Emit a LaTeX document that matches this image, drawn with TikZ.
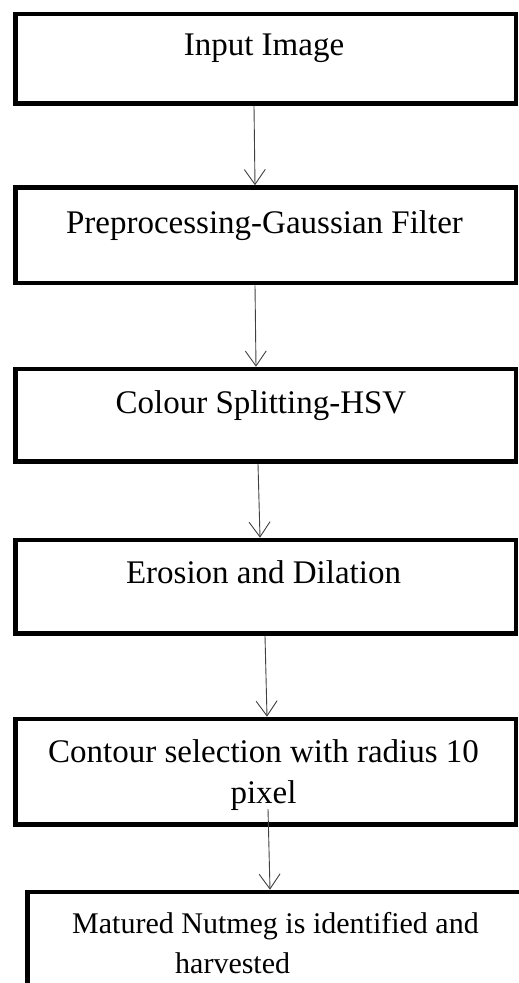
\documentclass[tikz,border=0pt]{standalone}
\usepackage{fontspec}
\setmainfont{Liberation Serif}
\usetikzlibrary{arrows.meta}
\tikzset{
  boxshape/.style={draw=black, line width=4.6pt, inner sep=0pt, fill=none},
  lbl/.style={inner sep=0pt, anchor=base, font=\fontsize{33}{41}\selectfont},
  lblsmall/.style={inner sep=0pt, anchor=base west, align=left, font=\fontsize{30}{40}\selectfont},
  arr/.style={draw=black!75, line width=0.9pt, -{Straight Barb[length=15pt,width=21pt,line width=0.9pt]}}
}
\begin{document}
\begin{tikzpicture}[x=1pt,y=-1pt]
\useasboundingbox (0,0) rectangle (519,983);
\clip (0,0) rectangle (519,983);
% boxes
\node[boxshape, minimum width=500.5pt, minimum height=89.5pt] (b1) at (265.75,58.75) {};
\node[boxshape, minimum width=500.5pt, minimum height=95.5pt] (b2) at (265.75,235.25) {};
\node[boxshape, minimum width=500.5pt, minimum height=92.5pt] (b3) at (265.75,415.25) {};
\node[boxshape, minimum width=500.5pt, minimum height=93.5pt] (b4) at (265.75,586.75) {};
\node[boxshape, minimum width=500.5pt, minimum height=105.5pt] (b5) at (265.75,771.75) {};
\node[boxshape, minimum width=520pt, minimum height=160pt] (b6) at (287.5,972) {};
% texts
\node[lbl] (t1) at (264,55) {Input Image};
\node[lbl] (t2) at (264.5,233) {Preprocessing-Gaussian Filter};
\node[lbl] (t3) at (261,413) {Colour Splitting-HSV};
\node[lbl] (t4) at (263.5,583) {Erosion and Dilation};
\node[lbl, align=center] (t5) at (263.5,803) {Contour selection with radius 10\\pixel};
\node[lblsmall] (t6) at (72,973) {Matured Nutmeg is identified and\\\hspace*{103pt}harvested};
% connectors
\coordinate (s5) at (268,809);
\draw[arr] ([xshift=-11.75pt]b1.south) -- ([xshift=-10.75pt]b2.north);
\draw[arr] ([xshift=-10.75pt]b2.south) -- ([xshift=-9.75pt]b3.north);
\draw[arr] ([xshift=-7.75pt]b3.south) -- ([xshift=-5.75pt]b4.north);
\draw[arr] ([xshift=-0.75pt]b4.south) -- ([xshift=1.25pt]b5.north);
\draw[arr] (s5) -- (b6.north -| 270,0);
\end{tikzpicture}
\end{document}
